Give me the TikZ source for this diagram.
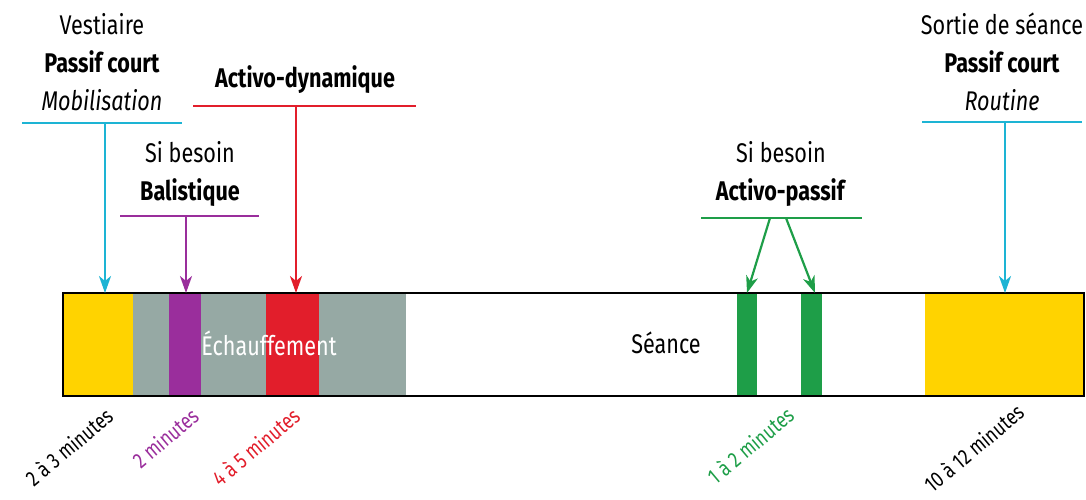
\documentclass[tikz,border=0pt]{standalone}
\usepackage{fontspec}
\setmainfont{Fira Sans}[FakeStretch=0.8]
\usetikzlibrary{arrows.meta}

\definecolor{jaune}{HTML}{FFD300}
\definecolor{gris}{HTML}{96A9A4}
\definecolor{violet}{HTML}{9A2E9C}
\definecolor{rouge}{HTML}{E21E2B}
\definecolor{vert}{HTML}{1E9E48}
\definecolor{cyan}{HTML}{1DB4D4}

\tikzset{
	fleche/.style = {line width = 2.2pt, -{Stealth[length=17pt, width=12pt, inset=5pt]}},
	trait/.style = {line width = 2.4pt},
	titre/.style = {align = center, font = \fontsize{27}{38}\selectfont},
	duree/.style = {anchor = east, rotate = 40, font = \fontsize{22}{26}\selectfont, inner sep = 1pt}
}

\begin{document}
\begin{tikzpicture}[x = 1pt, y = -1pt]
	\useasboundingbox (0,0) rectangle (1086,499);

	% the bar
	\def \barTop {293};
	\def \barBottom {396};
	\fill [jaune] (63,\barTop) rectangle (133,\barBottom);
	\fill [gris] (133,\barTop) rectangle (406,\barBottom);
	\fill [violet] (169,\barTop) rectangle (201,\barBottom);
	\fill [rouge] (266,\barTop) rectangle (319,\barBottom);
	\fill [vert] (737,\barTop) rectangle (757,\barBottom);
	\fill [vert] (801,\barTop) rectangle (822,\barBottom);
	\fill [jaune] (925,\barTop) rectangle (1084,\barBottom);
	\draw [line width = 2.2pt] (63,\barTop) rectangle (1084,\barBottom);
	\node (echauffement) at (269,343) [text = white, font = \fontsize{27}{32}\selectfont] {Échauffement};
	\node (seance) at (666,343) [font = \fontsize{27}{32}\selectfont] {Séance};

	% vestiaire
	\node (vestiaire) at (102,62) [titre] {Vestiaire\\ \textbf{Passif court}\\ \textit{Mobilisation}};
	\coordinate (vestiaireG) at (22,123);
	\coordinate (vestiaireD) at (182,123);
	\coordinate (vestiaireM) at (105,123);
	\coordinate (vestiaireB) at (105,\barTop);
	\draw [trait, cyan] (vestiaireG) -- (vestiaireD);
	\draw [fleche, cyan] (vestiaireM) -- (vestiaireB);

	% balistique
	\node (balistique) at (190,174) [titre] {Si besoin\\ \textbf{Balistique}};
	\coordinate (balistiqueG) at (120,216);
	\coordinate (balistiqueD) at (259,216);
	\coordinate (balistiqueM) at (186,216);
	\coordinate (balistiqueB) at (186,\barTop);
	\draw [trait, violet] (balistiqueG) -- (balistiqueD);
	\draw [fleche, violet] (balistiqueM) -- (balistiqueB);

	% activo-dynamique
	\node (dynamique) at (305,80) [titre] {\textbf{Activo-dynamique}};
	\coordinate (dynamiqueG) at (193,106);
	\coordinate (dynamiqueD) at (416,106);
	\coordinate (dynamiqueM) at (296,106);
	\coordinate (dynamiqueB) at (296,\barTop);
	\draw [trait, rouge] (dynamiqueG) -- (dynamiqueD);
	\draw [fleche, rouge] (dynamiqueM) -- (dynamiqueB);

	% activo-passif
	\node (passif) at (781,174) [titre] {Si besoin\\ \textbf{Activo-passif}};
	\coordinate (passifG) at (701,218);
	\coordinate (passifD) at (862,218);
	\coordinate (passifA) at (770,218);
	\coordinate (passifB) at (786,218);
	\coordinate (passifX) at (747,\barTop);
	\coordinate (passifY) at (815,\barTop);
	\draw [trait, vert] (passifG) -- (passifD);
	\draw [fleche, vert] (passifA) -- (passifX);
	\draw [fleche, vert] (passifB) -- (passifY);

	% sortie de seance
	\node (sortie) at (1002,62) [titre] {Sortie de séance\\ \textbf{Passif court}\\ \textit{Routine}};
	\coordinate (sortieG) at (922,122);
	\coordinate (sortieD) at (1082,122);
	\coordinate (sortieM) at (1005,122);
	\coordinate (sortieB) at (1005,\barTop);
	\draw [trait, cyan] (sortieG) -- (sortieD);
	\draw [fleche, cyan] (sortieM) -- (sortieB);

	% durees
	\node (dureeA) at (110,412) [duree] {2 à 3 minutes};
	\node (dureeB) at (196,412) [duree, text = violet] {2 minutes};
	\node (dureeC) at (297,412) [duree, text = rouge] {4 à 5 minutes};
	\node (dureeD) at (791,411) [duree, text = vert] {1 à 2 minutes};
	\node (dureeE) at (1021,408) [duree] {10 à 12 minutes};

\end{tikzpicture}
\end{document}
